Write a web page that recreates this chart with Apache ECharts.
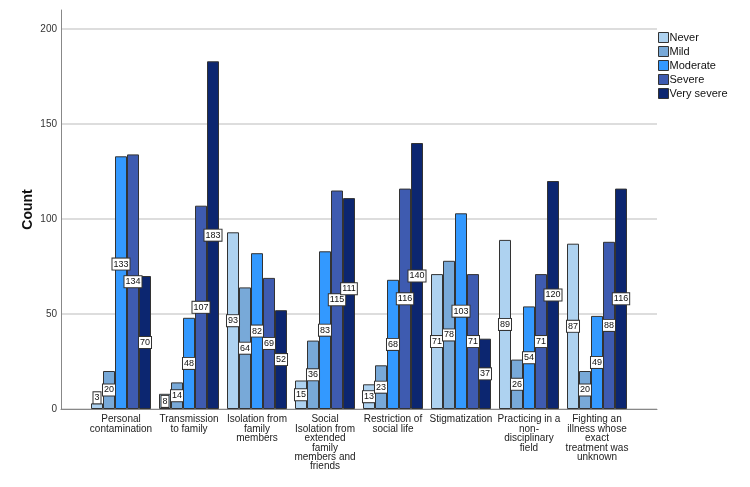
<!DOCTYPE html>
<html>
<head>
<meta charset="utf-8">
<script src="https://cdn.jsdelivr.net/npm/echarts@6/dist/echarts.min.js"></script>
<style>html,body{margin:0;padding:0;background:#fff;}#c{width:750px;height:487px;}</style>
</head>
<body>
<div id="c"></div>
<script>
const categories = [
  "Personal\ncontamination",
  "Transmission\nto family",
  "Isolation from\nfamily\nmembers",
  "Social\nIsolation from\nextended\nfamily\nmembers and\nfriends",
  "Restriction of\nsocial life",
  "Stigmatization",
  "Practicing in a\nnon-\ndisciplinary\nfield",
  "Fighting an\nillness whose\nexact\ntreatment was\nunknown"
];
const seriesNames = ["Never", "Mild", "Moderate", "Severe", "Very severe"];
const never      = [3, 8, 93, 15, 13, 71, 89, 87];
const mild       = [20, 14, 64, 36, 23, 78, 26, 20];
const moderate   = [133, 48, 82, 83, 68, 103, 54, 49];
const severe     = [134, 107, 69, 115, 116, 71, 71, 88];
const verySevere = [70, 183, 52, 111, 140, 37, 120, 116];
const yTicks = [0, 50, 100, 150, 200];

const values = [never, mild, moderate, severe, verySevere];
const colors = ["#aed2f0", "#78a9d8", "#3399ff", "#3e5bb0", "#0c2670"];
const FONT = "Liberation Sans, Arial, sans-serif";
const LABEL_FS = 9;
const LABEL_H = 11;

const ctx = document.createElement('canvas').getContext('2d');
ctx.font = LABEL_FS + 'px Liberation Sans';
function labelW(v) { return ctx.measureText(String(v)).width + 2; }

// SPSS-like label placement: centre of bar, lifted above tiny bars,
// and the shorter bar's label lifted when neighbouring labels collide.
function layoutCategory(cat, base, ppu, x0, bw) {
  const L = values.map((arr, i) => {
    const v = arr[cat];
    const top = base - v * ppu;
    let cy = base - v * ppu / 2;
    if (cy + LABEL_H / 2 > base) cy = top - LABEL_H / 2;
    return {v, cx: x0 + i * bw + bw / 2, cy, w: labelW(v)};
  });
  for (let i = 0; i < L.length - 1; i++) {
    const a = L[i], b = L[i + 1];
    const hOver = Math.abs(a.cx - b.cx) < (a.w + b.w) / 2 - 0.5;
    const vOver = Math.abs(a.cy - b.cy) < LABEL_H;
    if (hOver && vOver) {
      if (a.v < b.v) a.cy = b.cy - LABEL_H * 1.6; else b.cy = a.cy - LABEL_H;
    }
  }
  return L;
}

const chart = echarts.init(document.getElementById('c'), null, {renderer: 'canvas'});
const series = seriesNames.map((n, si) => ({
  name: n,
  type: 'bar',
  xAxisIndex: 1,
  yAxisIndex: 1,
  barWidth: 12,
  barGap: '0%',
  data: values[si],
  itemStyle: {color: colors[si], borderColor: '#333', borderWidth: 1},
  label: {
    show: true,
    position: 'inside',
    fontFamily: FONT,
    fontSize: LABEL_FS,
    lineHeight: LABEL_FS,
    color: '#111',
    backgroundColor: '#fff',
    borderColor: '#333',
    borderWidth: 1,
    padding: [1, 1, 1, 1]
  },
  labelLayout: function (p) {
    const r = p.rect;
    const top = Math.min(r.y, r.y + r.height);
    const h = Math.abs(r.height);
    const base = top + h;
    const v = values[p.seriesIndex][p.dataIndex];
    const ppu = v > 0 ? h / v : 1.9;
    const x0 = r.x - p.seriesIndex * r.width;
    const L = layoutCategory(p.dataIndex, base, ppu, x0, r.width);
    const me = L[p.seriesIndex];
    return {x: me.cx, y: me.cy, align: 'center', verticalAlign: 'middle'};
  }
}));

chart.setOption({
  animation: false,
  backgroundColor: '#fff',
  textStyle: {fontFamily: FONT},
  grid: [
    {left: 61, right: 93, top: 10, bottom: 78},
    {left: 87, right: 119, top: 10, bottom: 78}
  ],
  legend: {
    orient: 'vertical',
    left: 658,
    top: 32,
    padding: 0,
    itemWidth: 10,
    itemHeight: 10,
    itemGap: 3,
    icon: 'rect',
    textStyle: {fontFamily: FONT, fontSize: 11, color: '#111', padding: [0, 0, 0, -4]},
    itemStyle: {borderColor: '#333', borderWidth: 1},
    data: seriesNames
  },
  xAxis: [
    {type: 'value', gridIndex: 0, min: 0, max: 1,
     axisLine: {show: true, lineStyle: {color: '#888', width: 1}},
     axisTick: {show: false}, axisLabel: {show: false}, splitLine: {show: false}},
    {type: 'category', gridIndex: 1, data: categories,
     axisLine: {show: false}, axisTick: {show: false},
     axisLabel: {fontFamily: FONT, fontSize: 10, color: '#222', lineHeight: 9.4, margin: 6, interval: 0}}
  ],
  yAxis: [
    {type: 'value', gridIndex: 0, min: 0, max: 210, interval: 50,
     axisLine: {show: true, lineStyle: {color: '#888', width: 1}},
     axisTick: {show: false},
     axisLabel: {fontFamily: FONT, fontSize: 10, color: '#333', margin: 4, customValues: yTicks},
     splitLine: {show: true, showMaxLine: false, lineStyle: {color: '#d2d2d2', width: 1.5}}},
    {type: 'value', gridIndex: 1, min: 0, max: 210,
     name: 'Count', nameLocation: 'middle', nameGap: 52, nameRotate: 90,
     nameTextStyle: {fontFamily: FONT, fontSize: 14, fontWeight: 'bold', color: '#111'},
     axisLine: {show: false}, axisTick: {show: false}, axisLabel: {show: false},
     splitLine: {show: false}}
  ],
  series: series
});
</script>
</body>
</html>
